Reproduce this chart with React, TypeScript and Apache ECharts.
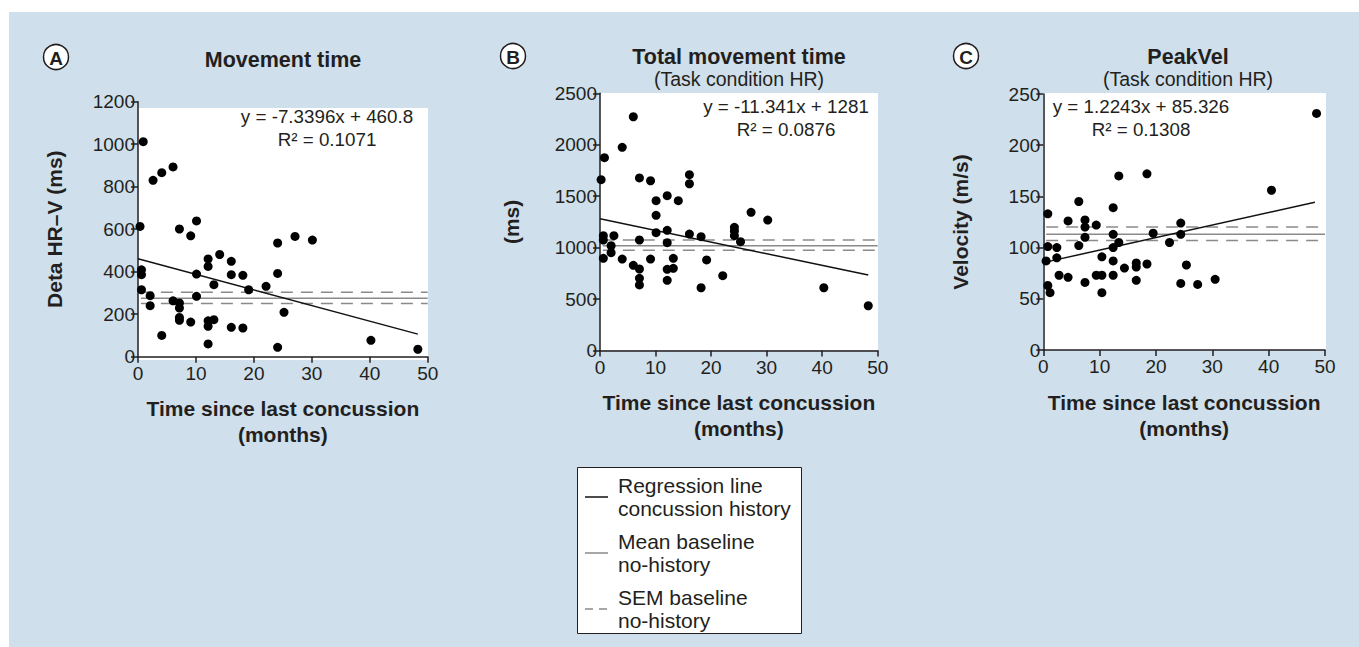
import React, { useEffect, useRef } from "react";
import * as echarts from "echarts";

// ---------- data ----------
const xTicksMax = 50;
const aPoints: [number, number][] = [
  [0.9, 1012], [2.6, 830], [4.1, 866], [6.05, 893], [0.35, 613], [7.15, 601], [10.1, 639], [9.1, 569],
  [0.6, 409], [0.6, 386], [0.6, 315], [2.1, 287], [2.1, 240], [4.1, 100], [6.05, 263], [7.15, 253],
  [7.15, 229], [7.15, 185], [7.15, 171], [9.1, 163], [10.1, 389], [10.1, 284], [12.1, 460], [12.1, 425],
  [12.1, 169], [12.1, 143], [12.1, 60], [13.1, 339], [13.1, 174], [14.1, 481], [16.1, 449], [16.1, 386],
  [16.1, 138], [18.1, 383], [18.1, 135], [19.1, 315], [22.1, 331], [24.1, 535], [24.1, 392], [24.1, 44],
  [25.2, 209], [27.1, 566], [30.1, 549], [40.2, 77], [48.3, 35],
];
const bPoints: [number, number][] = [
  [6.0, 2272], [4.0, 1975], [0.8, 1874], [0.2, 1660], [7.1, 1677], [9.1, 1650], [16.1, 1709], [16.1, 1621],
  [12.1, 1505], [14.1, 1456], [10.1, 1456], [10.1, 1314], [10.1, 1145], [12.1, 1168], [12.1, 1048], [16.1, 1132],
  [18.2, 1106], [0.6, 1116], [0.6, 1074], [2.5, 1116], [7.1, 1074], [2.0, 1019], [2.0, 951], [0.6, 896],
  [4.0, 889], [6.0, 828], [7.1, 792], [7.1, 702], [7.1, 637], [9.1, 889], [12.1, 789], [12.1, 682],
  [13.2, 896], [13.2, 799], [18.2, 610], [19.2, 880], [22.1, 727], [24.2, 1197], [24.2, 1162], [24.2, 1116],
  [25.3, 1058], [27.2, 1343], [30.2, 1268], [40.3, 610], [48.3, 435],
];
const cPoints: [number, number][] = [
  [48.5, 231], [13.4, 170], [18.4, 172], [40.5, 156], [6.3, 145], [12.4, 139], [0.8, 133], [4.4, 126],
  [7.4, 127], [7.4, 120], [9.4, 122], [7.4, 110], [12.4, 113], [13.4, 105], [12.4, 100], [6.3, 102],
  [0.8, 101], [2.4, 100], [2.4, 90], [0.5, 87], [19.5, 114], [24.4, 124], [24.4, 113], [22.4, 105],
  [10.4, 91], [12.4, 87], [14.4, 80], [16.5, 85], [16.5, 81], [18.4, 84], [25.4, 83], [2.8, 73],
  [4.4, 71], [9.4, 73], [10.4, 73], [12.4, 73], [7.4, 66], [16.5, 68], [0.8, 63], [1.2, 56],
  [10.4, 56], [24.4, 65], [27.4, 64], [30.5, 69],
];

const panelLetters = ["A", "B", "C"];
const titles = ["Movement time", "Total movement time", "PeakVel"];
const subtitles = ["", "(Task condition HR)", "(Task condition HR)"];
const yNames = ["Deta HR\u2013V (ms)", "(ms)", "Velocity (m/s)"];
const yMax = [1200, 2500, 250];
const yInterval = [200, 500, 50];
const slopes = [-7.3396, -11.341, 1.2243];
const intercepts = [460.8, 1281, 85.326];
const regEndX = [48.3, 48.3, 48.2];
const equations = ["y = -7.3396x + 460.8", "y = -11.341x + 1281", "y = 1.2243x + 85.326"];
const r2Texts = ["R\u00b2 = 0.1071", "R\u00b2 = 0.0876", "R\u00b2 = 0.1308"];
const meanBase = [275, 1018, 113];
const semUpper = [303, 1074, 120];
const semLower = [250, 974, 107];
const baseStartX = 0.5;
const legendLabels = [
  "Regression line\nconcussion history",
  "Mean baseline\nno-history",
  "SEM baseline\nno-history",
];

// ---------- layout ----------
const grids = [
  { left: 138, top: 101.7, width: 289.7, height: 255 },
  { left: 600, top: 93.3, width: 277.7, height: 257.2 },
  { left: 1043.3, top: 94, width: 281.7, height: 256 },
];
const whiteRects = [
  { x: 138, y: 108, width: 290, height: 252 },
  { x: 600, y: 93, width: 278, height: 257 },
  { x: 1043, y: 93, width: 283, height: 257 },
];
const circleCenters = [
  [56, 57],
  [513, 56],
  [966, 56],
];
const titleX = [283, 739, 1188];
const eqX = [327, 786, 1141];
const eqY = [116, 106, 106];
const yNameGap = [73, 78, 72];

const FONT = "'Liberation Sans', Arial, Helvetica, sans-serif";
const INK = "#231f20";
const BG = "#cfdfeb";

export default function App() {
  const ref = useRef<HTMLDivElement>(null);
  useEffect(() => {
    if (!ref.current) return;
    const chart = echarts.init(ref.current, undefined, { renderer: "svg" });
    const allPoints = [aPoints, bPoints, cPoints];

    const xAxes = grids.map((_, i) => ({
      type: "value",
      gridIndex: i,
      min: 0,
      max: xTicksMax,
      interval: 10,
      name: "Time since last concussion\n(months)",
      nameLocation: "middle",
      nameGap: 39,
      nameTextStyle: { fontFamily: FONT, fontSize: 21, fontWeight: "bold", color: INK, lineHeight: 26 },
      axisLine: { show: true, onZero: false, lineStyle: { color: INK, width: 1.5 } },
      axisTick: { show: true, inside: false, length: 6, lineStyle: { color: INK, width: 1.5 } },
      axisLabel: { fontFamily: FONT, fontSize: 19, color: INK, margin: 7, formatter: (v: number) => String(v) },
      splitLine: { show: false },
    }));
    const yAxes = grids.map((_, i) => ({
      type: "value",
      gridIndex: i,
      min: 0,
      max: yMax[i],
      interval: yInterval[i],
      name: yNames[i],
      nameLocation: "middle",
      nameRotate: 90,
      nameGap: yNameGap[i],
      nameTextStyle: { fontFamily: FONT, fontSize: 21, fontWeight: "bold", color: INK },
      axisLine: { show: true, onZero: false, lineStyle: { color: INK, width: 1.5 } },
      axisTick: { show: true, inside: false, length: 7, lineStyle: { color: INK, width: 1.5 } },
      axisLabel: { fontFamily: FONT, fontSize: 19, color: INK, margin: 3, formatter: (v: number) => String(v) },
      splitLine: { show: false },
    }));

    const series: any[] = [];
    for (let i = 0; i < 3; i++) {
      const baseLine = (y: number, dashed: boolean) => ({
        type: "line",
        xAxisIndex: i,
        yAxisIndex: i,
        data: [
          [baseStartX, y],
          [xTicksMax, y],
        ],
        symbol: "none",
        silent: true,
        z: 3,
        lineStyle: dashed
          ? { color: "#8a8a8a", width: 1.5, type: [12, 8] }
          : { color: "#8a8a8a", width: 1.5, type: "solid" },
      });
      series.push(baseLine(meanBase[i], false));
      series.push(baseLine(semUpper[i], true));
      series.push(baseLine(semLower[i], true));
      series.push({
        type: "line",
        xAxisIndex: i,
        yAxisIndex: i,
        data: [
          [0, intercepts[i]],
          [regEndX[i], intercepts[i] + slopes[i] * regEndX[i]],
        ],
        symbol: "none",
        silent: true,
        z: 4,
        lineStyle: { color: "#111", width: 1.5 },
      });
      series.push({
        type: "scatter",
        xAxisIndex: i,
        yAxisIndex: i,
        data: allPoints[i],
        symbol: "circle",
        symbolSize: 9,
        clip: false,
        z: 5,
        itemStyle: { color: "#000", opacity: 1 },
      });
    }

    const graphics: any[] = [
      {
        type: "rect",
        z: -100,
        silent: true,
        shape: { x: 9, y: 12, width: 1350, height: 635 },
        style: { fill: BG },
      },
    ];
    whiteRects.forEach((r) =>
      graphics.push({ type: "rect", z: -90, silent: true, shape: r, style: { fill: "#ffffff" } })
    );
    for (let i = 0; i < 3; i++) {
      graphics.push({
        type: "circle",
        z: 10,
        shape: { cx: circleCenters[i][0], cy: circleCenters[i][1], r: 12.5 },
        style: { fill: "#ffffff", stroke: INK, lineWidth: 1.5 },
      });
      graphics.push({
        type: "text",
        z: 11,
        x: circleCenters[i][0],
        y: circleCenters[i][1] + 1,
        style: {
          text: panelLetters[i],
          fontFamily: FONT,
          fontSize: 19,
          fontWeight: "bold",
          fill: INK,
          align: "center",
          verticalAlign: "middle",
        },
      });
      graphics.push({
        type: "text",
        z: 10,
        x: titleX[i],
        y: subtitles[i] ? 57 : 60,
        style: {
          text: titles[i],
          fontFamily: FONT,
          fontSize: 21.5,
          fontWeight: "bold",
          fill: INK,
          align: "center",
          verticalAlign: "middle",
        },
      });
      if (subtitles[i]) {
        graphics.push({
          type: "text",
          z: 10,
          x: titleX[i],
          y: 79,
          style: {
            text: subtitles[i],
            fontFamily: FONT,
            fontSize: 19.5,
            fill: INK,
            align: "center",
            verticalAlign: "middle",
          },
        });
      }
      graphics.push({
        type: "text",
        z: 10,
        x: eqX[i],
        y: eqY[i],
        style: {
          text: equations[i],
          fontFamily: FONT,
          fontSize: 18.8,
          fill: INK,
          align: "center",
          verticalAlign: "middle",
        },
      });
      graphics.push({
        type: "text",
        z: 10,
        x: eqX[i],
        y: eqY[i] + 23,
        style: {
          text: r2Texts[i],
          fontFamily: FONT,
          fontSize: 18.8,
          fill: INK,
          align: "center",
          verticalAlign: "middle",
        },
      });
    }

    // legend box
    graphics.push({
      type: "rect",
      z: 10,
      shape: { x: 577.5, y: 467.5, width: 224, height: 166 },
      style: { fill: "#ffffff", stroke: INK, lineWidth: 1 },
    });
    const legendLineY = [497, 553, 609];
    const legendLineStyles = [
      { stroke: "#111", lineWidth: 1.5 },
      { stroke: "#8a8a8a", lineWidth: 1.5 },
      { stroke: "#8a8a8a", lineWidth: 1.5, lineDash: [8, 6] },
    ];
    for (let k = 0; k < 3; k++) {
      graphics.push({
        type: "line",
        z: 11,
        shape: { x1: 585, y1: legendLineY[k], x2: 608, y2: legendLineY[k] },
        style: legendLineStyles[k],
      });
      graphics.push({
        type: "text",
        z: 11,
        x: 618,
        y: legendLineY[k],
        style: {
          text: legendLabels[k],
          fontFamily: FONT,
          fontSize: 21,
          lineHeight: 23,
          fill: INK,
          align: "left",
          verticalAlign: "middle",
        },
      });
    }

    chart.setOption({
      animation: false,
      backgroundColor: "#ffffff",
      grid: grids.map((g) => ({ ...g, containLabel: false })),
      xAxis: xAxes,
      yAxis: yAxes,
      series,
      graphic: { elements: graphics },
    });
    return () => chart.dispose();
  }, []);
  return (
    <div
      ref={ref}
      style={{ position: "absolute", left: 0, top: 0, width: 1359, height: 647 }}
    />
  );
}
